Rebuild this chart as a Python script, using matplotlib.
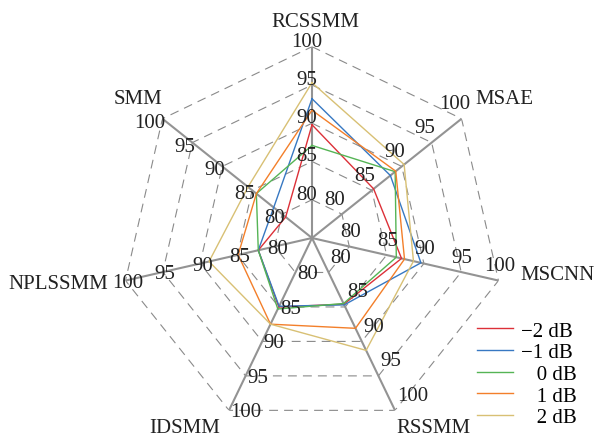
import numpy as np
import matplotlib
matplotlib.use('Agg')
import matplotlib.pyplot as plt

plt.rcParams['font.family'] = ['Liberation Serif', 'DejaVu Serif']

# methods on the radar axes, clockwise from the top
methods = ['RCSSMM', 'MSAE', 'MSCNN', 'RSSMM', 'IDSMM', 'NPLSSMM', 'SMM']
snr_labels = ['\u22122 dB', '\u22121 dB', '\u2007 0 dB', '\u2007 1 dB', '\u2007 2 dB']

# accuracy (%) of each method at each SNR
acc_m2 = [89.8, 85.3, 87.0, 84.6, 85.0, 82.2, 79.4]
acc_m1 = [93.2, 88.1, 89.6, 84.7, 84.9, 82.2, 81.4]
acc_0 = [87.1, 88.9, 86.3, 84.5, 85.3, 82.2, 84.3]
acc_1 = [91.7, 89.0, 87.4, 88.1, 87.5, 84.9, 84.3]
acc_2 = [95.3, 90.4, 88.6, 91.3, 87.5, 88.8, 85.7]

ring_values = [80, 85, 90, 95, 100]
r_min, r_max = 75, 100

colors = ['#dc3038', '#3778c2', '#55b455', '#f37f2a', '#d8c074']
series = [acc_m2, acc_m1, acc_0, acc_1, acc_2]

n = len(methods)
angles = np.arange(n) * 2 * np.pi / n
closed = np.append(angles, angles[0])

fig = plt.figure(figsize=(5.98, 4.39), dpi=100)
ax = fig.add_axes([120.7 / 598, 8.7 / 439, 382.6 / 598, 382.6 / 439], projection='polar')
ax.set_theta_offset(np.pi / 2)
ax.set_theta_direction(-1)
ax.set_ylim(r_min, r_max)
ax.set_axis_off()

# dashed heptagon grid
for rv in ring_values:
    ax.plot(closed, [rv] * (n + 1), color='#8a8a8a', lw=0.8, dashes=(8, 5.5), zorder=1)

# spokes
for a in angles:
    ax.plot([a, a], [r_min, r_max], color='#939393', lw=1.5, zorder=2)

for vals, c, lab in zip(series, colors, snr_labels):
    ax.plot(closed, vals + vals[:1], color=c, lw=1.0, label=lab, zorder=3)

# tick label placement per spoke: pixel offset (x, y down) and alignment
tick_off = [(-5, -1, 'center'), (-7, -10.5, 'center'), (1, -10.5, 'center'),
            (2, -10.5, 'left'), (1.5, 6, 'left'), (2.5, 6, 'center'), (3, 8, 'right')]
for a, (dx, dy, ha) in zip(angles, tick_off):
    for rv in ring_values:
        ax.annotate(str(rv), xy=(a, rv), xytext=(dx, -dy), textcoords='offset pixels',
                    ha=ha, va='baseline', fontsize=15, color='#222222', zorder=4)

# method names beyond the outer ring
name_off = [(3.8, -21, 'center'), (13.4, -16, 'left'), (21.5, -1.5, 'left'),
            (1.7, 22, 'left'), (-9, 22, 'right'), (-17, 7, 'right'), (0, -16, 'right')]
for a, name, (dx, dy, ha) in zip(angles, methods, name_off):
    ax.annotate(name, xy=(a, r_max), xytext=(dx, -dy), textcoords='offset pixels',
                ha=ha, va='baseline', fontsize=15, color='#222222')

fig.legend(loc='upper left', bbox_to_anchor=(477 / 598, 1 - 322 / 439),
           bbox_transform=fig.transFigure, frameon=False, fontsize=15,
           handlelength=1.75, handletextpad=0.35, labelspacing=0.1,
           borderpad=0, borderaxespad=0)

fig.savefig('out.png', dpi=100)
